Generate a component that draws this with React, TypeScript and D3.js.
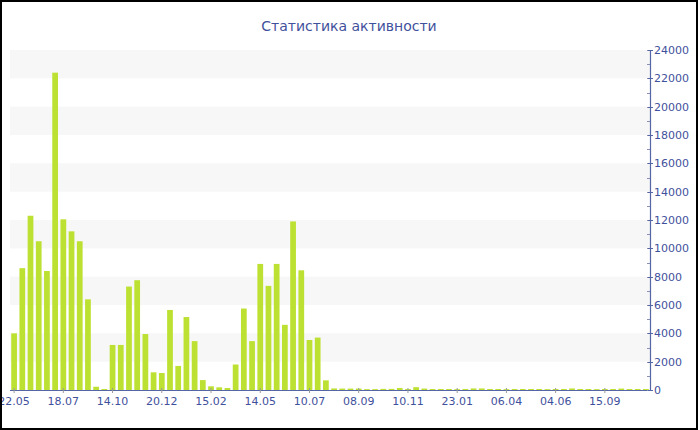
import React from "react";
import * as d3 from "d3";

const title = "Статистика активности";

const values: number[] = [
  4000, 8600, 12300, 10500, 8400, 22400, 12050, 11200, 10500, 6400,
  230, 70, 3180, 3180, 7300, 7750, 3950, 1250, 1200, 5650,
  1700, 5150, 3450, 700, 260, 190, 140, 1800, 5750, 3450,
  8900, 7350, 8900, 4600, 11900, 8450, 3530, 3700, 680, 110,
  100, 100, 100, 60, 60, 80, 80, 140, 70, 200,
  100, 70, 70, 70, 60, 70, 110, 110, 70, 70,
  60, 70, 70, 70, 70, 60, 70, 70, 110, 70,
  70, 60, 70, 70, 100, 70, 70, 70,
];

const tickLabels: string[] = [
  "22.05", "18.07", "14.10", "20.12", "15.02", "14.05", "10.07",
  "08.09", "10.11", "23.01", "06.04", "04.06", "15.09",
];
const labelEvery = 6;

const yMax = 24000;
const yMajor = [0, 2000, 4000, 6000, 8000, 10000, 12000, 14000, 16000, 18000, 20000, 22000, 24000];

const W = 700;
const H = 430;
const left = 10;
const right = 650;
const top = 50;
const bottom = 390;

const textColor = "#3f519c";
const axisColor = "#5566a6";
const barColor = "#bde133";
const bandColor = "#f7f7f7";
const font = "'DejaVu Sans', Verdana, sans-serif";

export default function App() {
  const cats = values.map((_, i) => i);
  const x = d3.scaleBand<number>().domain(cats).range([left, right]).paddingInner(0.3).paddingOuter(0.15);
  const y = d3.scaleLinear().domain([0, yMax]).range([bottom, top]);
  const minor = d3.range(0, yMax + 1, 1000);
  const bands = yMajor.filter((v, i) => i % 2 === 1);

  return (
    <>
      <style>{`body{margin:0}`}</style>
      <svg width={W} height={H} style={{ display: "block" }}>
        <rect x={0} y={0} width={W} height={H} fill="#fff" />
        {bands.map((v) => (
          <rect key={"b" + v} x={left} y={y(v + 2000)} width={right - left} height={y(v) - y(v + 2000)} fill={bandColor} />
        ))}
        {values.map((v, i) => (
          <rect key={"bar" + i} x={x(i)} y={y(v)} width={x.bandwidth()} height={y(0) - y(v)} fill={barColor} />
        ))}
        <line x1={left} x2={right} y1={bottom + 0.5} y2={bottom + 0.5} stroke={axisColor} strokeWidth={1.2} />
        {tickLabels.map((lab, k) => {
          const cx = (x(k * labelEvery) as number) + x.bandwidth() / 2;
          return (
            <g key={"xt" + k}>
              <line x1={cx} x2={cx} y1={bottom - 2} y2={bottom + 3} stroke="#999" strokeWidth={1} />
              <text x={cx} y={405} textAnchor="middle" fontSize={11} fontFamily={font} fill={textColor}>
                {lab}
              </text>
            </g>
          );
        })}
        <line x1={right + 0.5} x2={right + 0.5} y1={top} y2={bottom + 1} stroke={axisColor} strokeWidth={1.2} />
        {minor.map((v) => (
          <line key={"mn" + v} x1={right - 3} x2={right} y1={Math.round(y(v)) + 0.5} y2={Math.round(y(v)) + 0.5} stroke="#8890b8" strokeWidth={1} />
        ))}
        {yMajor.map((v) => (
          <g key={"yt" + v}>
            <line x1={right - 2} x2={right + 3} y1={Math.round(y(v)) + 0.5} y2={Math.round(y(v)) + 0.5} stroke={axisColor} strokeWidth={1} />
            <text x={right + 4} y={y(v)} dy="0.36em" fontSize={11} fontFamily={font} fill={textColor}>
              {v}
            </text>
          </g>
        ))}
        <text x={349} y={31} textAnchor="middle" fontSize={14} fontFamily={font} fill={textColor}>
          {title}
        </text>
        <rect x={1} y={1} width={696} height={428} fill="none" stroke="#000" strokeWidth={2} />
      </svg>
    </>
  );
}
